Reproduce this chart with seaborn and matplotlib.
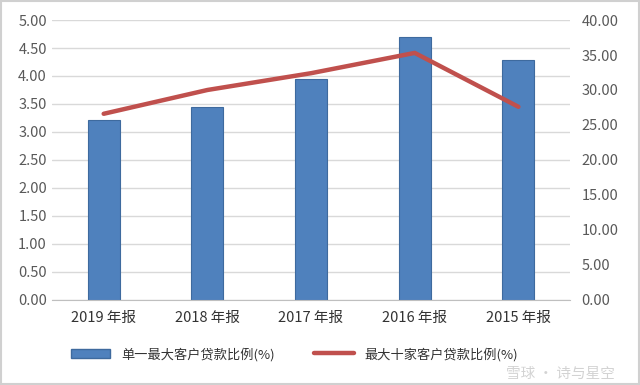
import matplotlib
matplotlib.use("Agg")
import matplotlib.pyplot as plt
import seaborn as sns
import pandas as pd
from matplotlib.patches import Patch
from matplotlib.lines import Line2D

# data
periods = ["2019 年报", "2018 年报", "2017 年报", "2016 年报", "2015 年报"]
top1_ratio = [3.22, 3.45, 3.95, 4.70, 4.29]
top10_ratio = [26.6, 30.0, 32.4, 35.3, 27.6]
left_ticks = [0, 0.5, 1.0, 1.5, 2.0, 2.5, 3.0, 3.5, 4.0, 4.5, 5.0]
right_ticks = [0, 5, 10, 15, 20, 25, 30, 35, 40]

sns.set_style("white")
plt.rcParams['font.family'] = ['Noto Sans CJK SC', 'DejaVu Sans']

df = pd.DataFrame({"period": periods, "top1": top1_ratio, "top10": top10_ratio})

fig = plt.figure(figsize=(6.4, 3.85), dpi=100)
ax = fig.add_axes([0.081, 0.221, 0.81, 0.727])

sns.barplot(data=df, x="period", y="top1", color="#4F81BD", width=0.31,
            edgecolor="#3E6A9E", linewidth=0.8, saturation=1, ax=ax, zorder=2)
ax.set_ylim(0, 5)
ax.set_yticks(left_ticks)
ax.set_yticklabels([f"{t:.2f}" for t in left_ticks])
ax.grid(axis="y", color="#D9D9D9", linewidth=1, zorder=0)
ax.set_axisbelow(True)
ax.set_xlabel("")
ax.set_ylabel("")
for s in ["top", "left", "right"]:
    ax.spines[s].set_visible(False)
ax.spines["bottom"].set_color("#BFBFBF")
ax.tick_params(axis="both", colors="#595959", labelsize=10.5, length=0)
ax.tick_params(axis="x", pad=8)
for lbl in ax.get_xticklabels():
    lbl.set_color("#333333")

ax2 = ax.twinx()
sns.lineplot(x=range(len(periods)), y=df["top10"], color="#C0504D", linewidth=3.2,
             ax=ax2, zorder=3)
ax2.set_ylim(0, 40)
ax2.set_yticks(right_ticks)
ax2.set_yticklabels([f"{t:.2f}" for t in right_ticks])
ax2.set_ylabel("")
for s in ["top", "left", "right", "bottom"]:
    ax2.spines[s].set_visible(False)
ax2.tick_params(axis="y", colors="#595959", labelsize=10.5, length=0, pad=8)
ax.set_xlim(-0.5, len(periods) - 0.5)

handles = [Patch(facecolor="#4F81BD", edgecolor="#3E6A9E"),
           Line2D([0], [0], color="#C0504D", linewidth=3.2)]
fig.legend(handles, ["单一最大客户贷款比例(%)", "最大十家客户贷款比例(%)"],
           loc="center", bbox_to_anchor=(0.46, 0.08), ncol=2, frameon=False,
           fontsize=9.5, handlelength=3.0, columnspacing=3, labelcolor="#333333")

# faint watermark in the lower right corner
fig.text(0.79, 0.018, "雪球 · 诗与星空", color="#C8C8C8", fontsize=10.5, alpha=0.8)

fig.patches.append(plt.Rectangle((0.002, 0.003), 0.996, 0.994, transform=fig.transFigure,
                                 fill=False, edgecolor="#D0D0D0", linewidth=1.5))

fig.savefig("out.png", dpi=100)
